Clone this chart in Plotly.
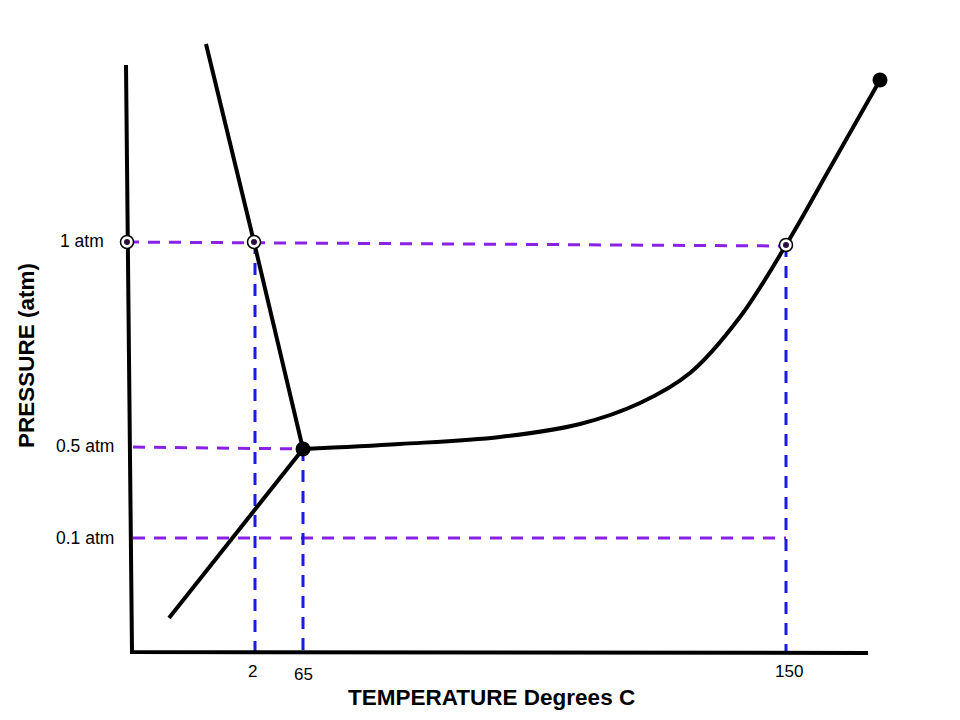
import plotly.graph_objects as go

# chart coordinates (x: temperature axis position, y: pressure axis position, top = 0)
left_x = [126, 128, 132, 868]
left_y = [65, 242, 652, 653]

melt_x = [206, 254, 303]
melt_y = [44, 242, 449]

sub_x = [169, 303]
sub_y = [618, 449]

vap_x = [303, 400, 500, 580, 640, 690, 740, 786, 830, 880]
vap_y = [449, 444, 437, 424, 403, 373, 317, 245, 168, 80]

big_dot_x = [303, 880]
big_dot_y = [449, 80]

ring_x = [127, 254, 786]
ring_y = [242, 242, 245]

# purple pressure guides: (x0, x1, y0, y1)
p_guides = [(127, 786, 242, 246), (133, 303, 447, 449), (133, 786, 538, 538)]
p_labels = ["1 atm", "0.5 atm", "0.1 atm"]
p_label_y = [241, 446, 538]
p_label_x = [106, 116, 116]

# blue temperature guides
t_guides = [(255, 242), (303, 449), (786, 245)]
t_labels = ["2", "65", "150"]
t_label_x = [252, 303, 789]
t_label_y = [671, 674, 671]

fig = go.Figure()

for x0, x1, y0, y1 in p_guides:
    fig.add_trace(go.Scatter(x=[x0, x1], y=[y0, y1], mode="lines",
                             line=dict(color="#8a22e6", width=3, dash="12px,9px")))
for xv, ytop in t_guides:
    fig.add_trace(go.Scatter(x=[xv, xv], y=[ytop, 653], mode="lines",
                             line=dict(color="#1a1ae0", width=3, dash="12px,9px")))

line_style = dict(color="black", width=4)
fig.add_trace(go.Scatter(x=left_x, y=left_y, mode="lines", line=line_style))
fig.add_trace(go.Scatter(x=melt_x, y=melt_y, mode="lines", line=line_style))
fig.add_trace(go.Scatter(x=sub_x, y=sub_y, mode="lines", line=line_style))
fig.add_trace(go.Scatter(x=vap_x, y=vap_y, mode="lines", line=dict(color="black", width=4, shape="spline")))

fig.add_trace(go.Scatter(x=big_dot_x, y=big_dot_y, mode="markers",
                         marker=dict(color="black", size=15)))
fig.add_trace(go.Scatter(x=ring_x, y=ring_y, mode="markers",
                         marker=dict(color="white", size=13, line=dict(color="black", width=1.5))))
fig.add_trace(go.Scatter(x=ring_x, y=ring_y, mode="markers",
                         marker=dict(color="#2a1040", size=6)))

for txt, xv, yv in zip(p_labels, p_label_x, p_label_y):
    fig.add_annotation(x=xv, y=yv, text=txt, showarrow=False, xanchor="right",
                       font=dict(size=17.5, color="black", family="Liberation Sans, Arial"))
for txt, xv, yv in zip(t_labels, t_label_x, t_label_y):
    fig.add_annotation(x=xv, y=yv, text=txt, showarrow=False,
                       font=dict(size=17, color="black", family="Liberation Sans, Arial"))

fig.add_annotation(x=491, y=697, text="<b>TEMPERATURE Degrees C</b>", showarrow=False,
                   font=dict(size=22.5, color="black", family="Liberation Sans, Arial"))
fig.add_annotation(x=26, y=356, text="<b>PRESSURE (atm)</b>", showarrow=False, textangle=-90,
                   font=dict(size=22.5, color="black", family="Liberation Sans, Arial"))

# page has an 8px body margin, so the figure is shifted and trimmed to fit the window
fig.update_layout(
    width=952, height=712,
    margin=dict(l=0, r=0, t=0, b=0),
    paper_bgcolor="white", plot_bgcolor="white",
    showlegend=False,
    xaxis=dict(range=[8, 960], visible=False),
    yaxis=dict(range=[720, 8], visible=False),
)

fig.write_html("out.html")
